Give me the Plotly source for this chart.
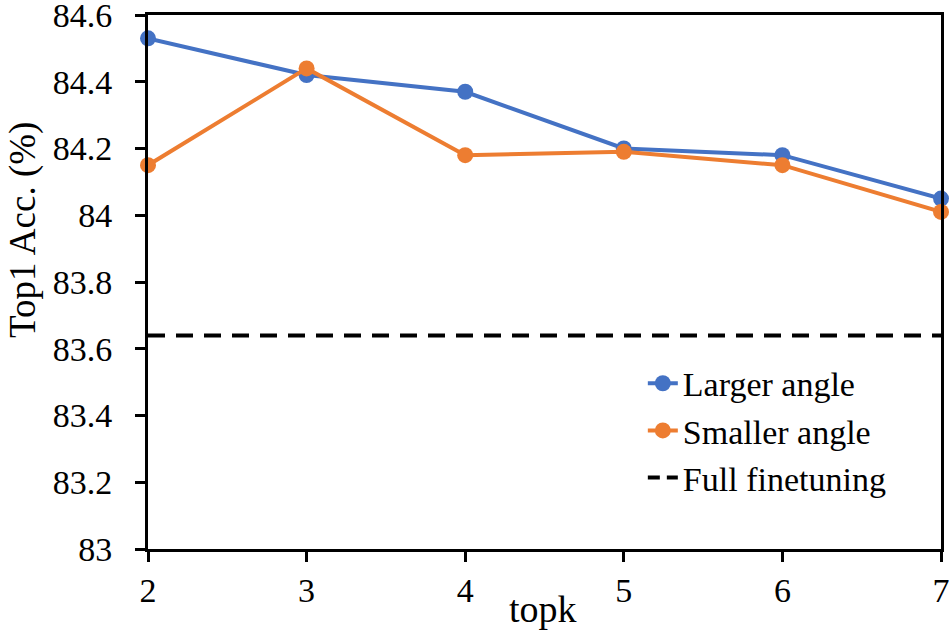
import plotly.graph_objects as go

# topk values on the x axis
topk = [2, 3, 4, 5, 6, 7]
larger_angle = [84.53, 84.42, 84.37, 84.20, 84.18, 84.05]
smaller_angle = [84.15, 84.44, 84.18, 84.19, 84.15, 84.01]
full_finetuning = 83.64
y_ticks = [83, 83.2, 83.4, 83.6, 83.8, 84, 84.2, 84.4, 84.6]
y_ticklabels = ["83", "83.2", "83.4", "83.6", "83.8", "84", "84.2", "84.4", "84.6"]

FONT = "Liberation Serif"
BLUE = "#4472C4"
ORANGE = "#ED7D31"

fig = go.Figure()
fig.add_trace(
    go.Scatter(
        x=topk,
        y=larger_angle,
        mode="lines+markers",
        name="Larger angle",
        line=dict(color=BLUE, width=4),
        marker=dict(size=16, color=BLUE),
        cliponaxis=False,
    )
)
fig.add_trace(
    go.Scatter(
        x=topk,
        y=smaller_angle,
        mode="lines+markers",
        name="Smaller angle",
        line=dict(color=ORANGE, width=4),
        marker=dict(size=16, color=ORANGE),
        cliponaxis=False,
    )
)
# baseline spans the whole x range
fig.add_trace(
    go.Scatter(
        x=[topk[0], topk[-1]],
        y=[full_finetuning, full_finetuning],
        mode="lines",
        name="Full finetuning",
        showlegend=False,
        line=dict(color="black", width=4, dash="17px,11px"),
    )
)
# legend entry only, with a shorter dash so two dashes fit the swatch
fig.add_trace(
    go.Scatter(
        x=[None],
        y=[None],
        mode="lines",
        name="Full finetuning",
        line=dict(color="black", width=4, dash="12px,7px"),
    )
)

fig.update_layout(
    width=952,
    height=631,
    margin=dict(l=148, r=11, t=15, b=82),
    plot_bgcolor="white",
    paper_bgcolor="white",
    font=dict(family=FONT, size=34, color="black"),
    showlegend=True,
    legend=dict(
        x=0.624,
        y=0.364,
        xanchor="left",
        yanchor="top",
        bgcolor="rgba(0,0,0,0)",
        font=dict(family=FONT, size=34, color="black"),
        tracegroupgap=0,
    ),
    xaxis=dict(
        range=[2, 7],
        tickvals=topk,
        showgrid=False,
        zeroline=False,
        showline=True,
        linecolor="black",
        linewidth=3,
        mirror=True,
        ticks="outside",
        ticklen=10,
        tickwidth=3,
        tickcolor="black",
        ticklabelstandoff=-1,
        ticklabeloverflow="allow",
        automargin=False,
        tickfont=dict(family=FONT, size=34),
    ),
    yaxis=dict(
        range=[83, 84.6],
        tickvals=y_ticks,
        ticktext=y_ticklabels,
        showgrid=False,
        zeroline=False,
        showline=True,
        linecolor="black",
        linewidth=3,
        mirror=True,
        ticks="outside",
        ticklen=10,
        tickwidth=3,
        tickcolor="black",
        ticklabelstandoff=16,
        ticklabeloverflow="allow",
        automargin=False,
        tickfont=dict(family=FONT, size=34),
    ),
)

# axis titles placed as in the original (y title sits above centre)
fig.add_annotation(
    text="topk",
    xref="paper",
    yref="paper",
    x=0.498,
    y=-0.113,
    xanchor="center",
    yanchor="middle",
    showarrow=False,
    font=dict(family=FONT, size=38, color="black"),
)
fig.add_annotation(
    text="Top1 Acc. (%)",
    xref="paper",
    yref="paper",
    x=-0.158,
    y=0.597,
    xanchor="center",
    yanchor="middle",
    textangle=-90,
    showarrow=False,
    font=dict(family=FONT, size=37, color="black"),
)

# drop the default 8px body margin so the figure fills the window
fig.write_html(
    "out.html",
    config={"displayModeBar": False},
    post_script="document.body.style.margin = '0';",
)
